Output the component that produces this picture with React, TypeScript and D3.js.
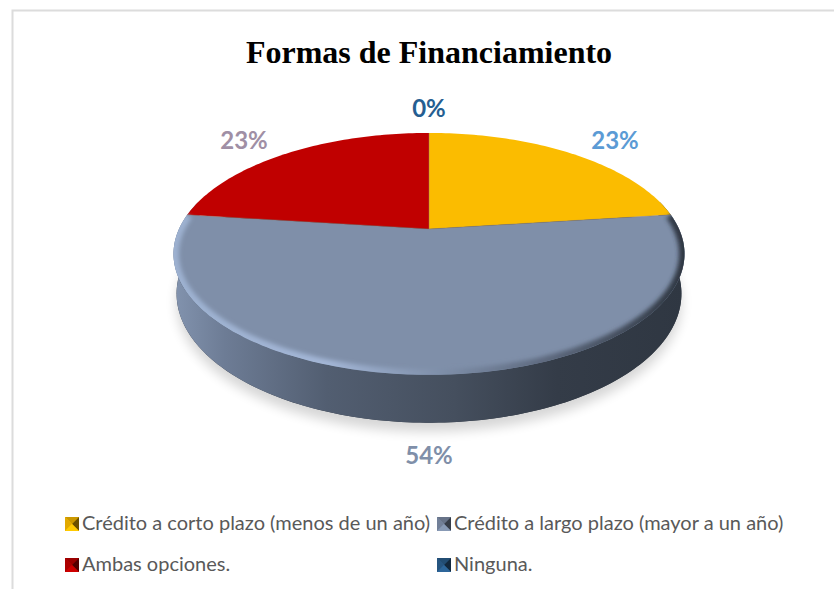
import React from "react";
import * as d3 from "d3";

const categories = ["Crédito a corto plazo (menos de un año)", "Crédito a largo plazo (mayor a un año)", "Ambas opciones.", "Ninguna."];
const values = [23, 54, 23, 0];
const labelTexts = ["23%", "54%", "23%", "0%"];
const sliceColors = ["#fbbc00", "#7f8fa9", "#c00000", "#2a5f8f"];
const labelColors = ["#5b9bd5", "#7f8fa9", "#a08fa5", "#255e91"];

const CX = 429, Y0 = 229, R = 250, K = 115.8, P = 0.206, DEPTH = 38;

function proj(a: number, h = 0): [number, number] {
  const u = Math.sin(a), v = -Math.cos(a);
  const s = 1 / (1 - P * v);
  return [CX + R * u * s * (1 - 0.012 * h), Y0 + K * v * s + h * DEPTH * s];
}
const line = d3.line();
function arcPts(a0: number, a1: number, h = 0) {
  const n = Math.max(2, Math.ceil(Math.abs(a1 - a0) / 0.02));
  return d3.range(n + 1).map((i) => proj(a0 + ((a1 - a0) * i) / n, h));
}

const pieGen = d3.pie<number>().sort(null).value((d) => d);
const arcs = pieGen(values);

const slicePath = (a0: number, a1: number) => line([[CX, Y0], ...arcPts(a0, a1)])! + "Z";
const discPath = line(arcPts(0, 2 * Math.PI))! + "Z";
const A0 = Math.PI / 2 - 0.25, A1 = Math.PI * 1.5 + 0.25;
const wallPath = line([...arcPts(A0, A1, 0), ...arcPts(A1, A0, 1)])! + "Z";
const lowerDisc = line(arcPts(0, 2 * Math.PI, 1))! + "Z";
const rimPath = line(arcPts(arcs[0].endAngle, arcs[1].endAngle))!;

const legendPos: [number, number][] = [[65, 524], [437, 524], [65, 565], [437, 565]];
const labelPos: [number, number][] = [[615, 149], [429, 464], [244, 149], [429, 117]];

function Marker({ x, y, color }: { x: number; y: number; color: string }) {
  const s = 14;
  const cx = x + s / 2, cy = y + s / 2;
  const c = d3.color(color)!;
  return (
    <g>
      <rect x={x} y={y} width={s} height={s} fill={color} />
      <path d={`M${x},${y}L${x + s},${y}L${cx},${cy}Z`} fill={c.darker(0.6).formatHex()} />
      <path d={`M${x},${y}L${x},${y + s}L${cx},${cy}Z`} fill={c.darker(0.3).formatHex()} />
      <path d={`M${x + s},${y}L${x + s},${y + s}L${cx},${cy}Z`} fill={c.darker(2.4).formatHex()} />
      <path d={`M${x},${y + s}L${x + s},${y + s}L${cx},${cy}Z`} fill={c.brighter(0.2).formatHex()} />
    </g>
  );
}

export default function App() {
  return (
    <svg width={834} height={589} style={{ position: "absolute", left: 0, top: 0 }}>
      <defs>
        <linearGradient id="wall" x1="174" x2="684" y1="0" y2="0" gradientUnits="userSpaceOnUse">
          <stop offset="0" stopColor="#8293ae" />
          <stop offset="0.1" stopColor="#6d7c95" />
          <stop offset="0.3" stopColor="#525e71" />
          <stop offset="0.55" stopColor="#454f5e" />
          <stop offset="0.75" stopColor="#343c48" />
          <stop offset="1" stopColor="#2f3742" />
        </linearGradient>
        <linearGradient id="rim" x1="174" x2="684" y1="0" y2="0" gradientUnits="userSpaceOnUse">
          <stop offset="0" stopColor="#9db1d0" />
          <stop offset="0.3" stopColor="#a3b6d6" />
          <stop offset="0.5" stopColor="#8293ae" />
          <stop offset="0.72" stopColor="#5f6b80" />
          <stop offset="1" stopColor="#2f3742" />
        </linearGradient>
        <filter id="blur2" x="-10%" y="-10%" width="120%" height="120%"><feGaussianBlur stdDeviation="2.2" /></filter>
        <filter id="blur6" x="-10%" y="-20%" width="120%" height="140%"><feGaussianBlur stdDeviation="6" /></filter>
        <clipPath id="disc"><path d={discPath} /></clipPath>
      </defs>
      <rect width={834} height={589} fill="#fff" />
      <path d="M12.5,589V10.5H834" fill="none" stroke="#dcdcdc" strokeWidth={2} />

      <text x={429} y={63} textAnchor="middle" fontFamily="'Liberation Serif'" fontWeight="bold" fontSize={32} fill="#000">Formas de Financiamiento</text>

      <path d={lowerDisc} transform="translate(0,9)" fill="#000" opacity={0.16} filter="url(#blur6)" />
      <path d={lowerDisc} fill="#2f3742" />
      <path d={wallPath} fill="url(#wall)" />

      {arcs.map((a, i) => (
        <path key={i} d={slicePath(a.startAngle, a.endAngle)} fill={sliceColors[i]} />
      ))}
      <g clipPath="url(#disc)">
        <path d={rimPath} fill="none" stroke="url(#rim)" strokeWidth={11} filter="url(#blur2)" />
      </g>
      {arcs.slice(0, 3).map((a, i) => (
        <path key={i} d={line([[CX, Y0], proj(a.startAngle)])!} stroke="#8a7a70" strokeOpacity={0.45} strokeWidth={1} fill="none" />
      ))}

      {labelTexts.map((t, i) => (
        <text key={i} x={labelPos[i][0]} y={labelPos[i][1]} textAnchor="middle" fontFamily="Lato" fontWeight="bold" fontSize={24} fill={labelColors[i]}>{t}</text>
      ))}

      {categories.map((c, i) => (
        <g key={i}>
          <Marker x={legendPos[i][0]} y={legendPos[i][1] - 7} color={sliceColors[i]} />
          <text x={legendPos[i][0] + 17} y={legendPos[i][1] + 6} fontFamily="Lato" fontSize={20} fill="#595959">{c}</text>
        </g>
      ))}
    </svg>
  );
}
